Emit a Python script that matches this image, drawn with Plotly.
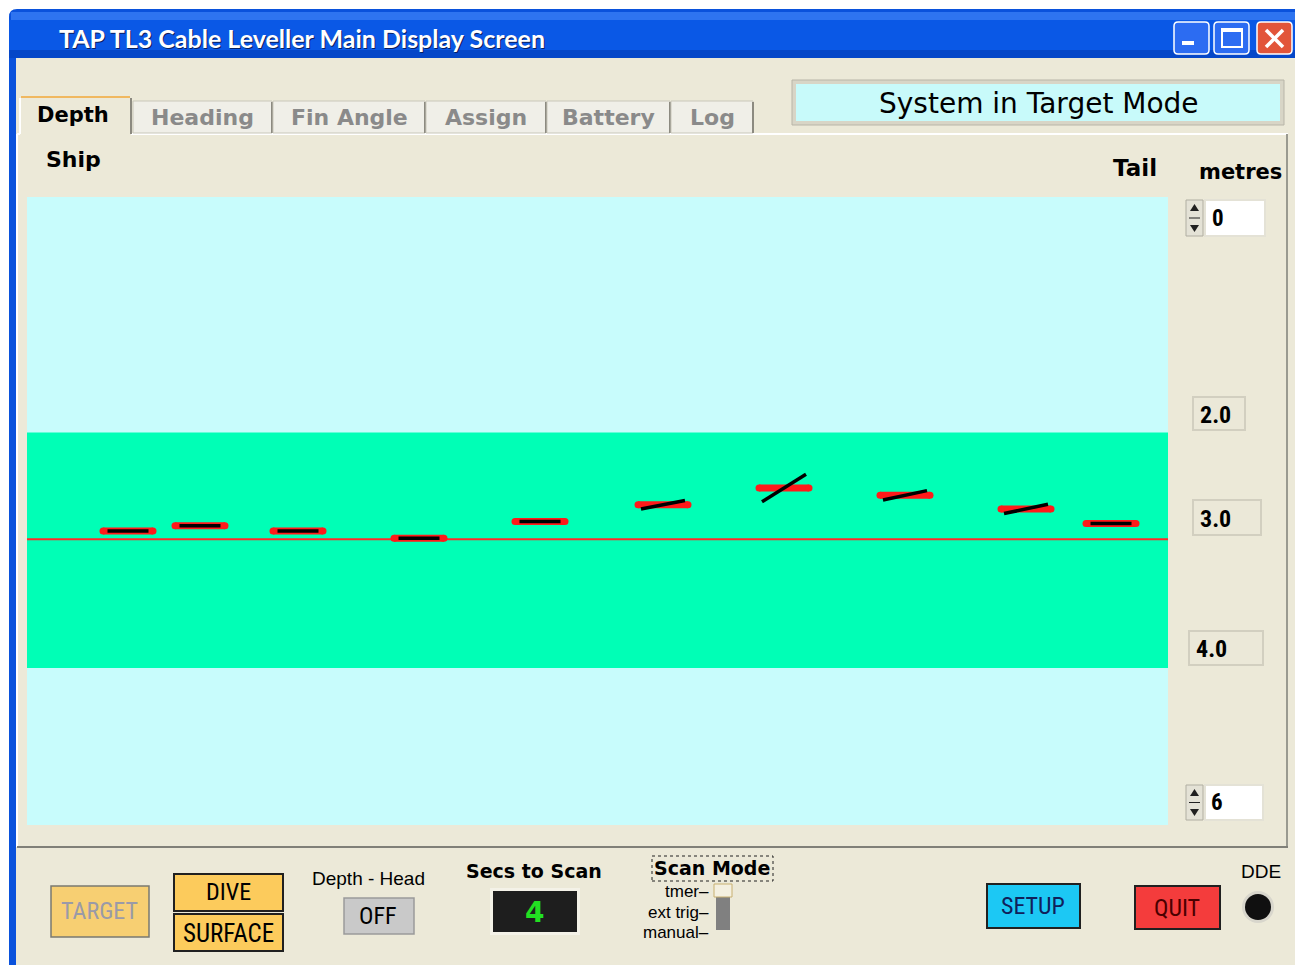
import math
import plotly.graph_objects as go

# ---------------- data ----------------
bird_pos = [101, 173, 271, 392, 513, 636, 757, 878, 999, 1084]        # along-cable position (display units)
bird_depth = [3.19, 3.14, 3.19, 3.26, 3.10, 2.94, 2.78, 2.85, 2.98, 3.12]  # metres
fin_angle = [0, 0, 0, 0, 0, 11, 32, 12, 12, 0]                          # degrees
target_depth = 3.27
band_top = 2.25
band_bottom = 4.5
depth_min, depth_max = 0, 6
pos_min, pos_max = 0, 1141
scale_labels = ["2.0", "3.0", "4.0"]

# ---------------- layout helpers ----------------
OFF = 8                      # page body margin in the browser
W, H = 1303 - OFF, 965 - OFF
PLOT_X0, PLOT_X1, PLOT_Y0, PLOT_Y1 = 27, 1168, 197, 825
px_per_unit_x = (PLOT_X1 - PLOT_X0) / (pos_max - pos_min)
px_per_m = (PLOT_Y1 - PLOT_Y0) / (depth_max - depth_min)

def fx(x):
    return (x - OFF) / W

def fy(y):
    return 1 - (y - OFF) / H

shapes = []
annotations = []

def rect(x0, y0, x1, y1, fill, line=None, lw=0, dash=None, layer="below"):
    d = dict(type="rect", xref="paper", yref="paper",
             x0=fx(x0), x1=fx(x1), y0=fy(y1), y1=fy(y0),
             fillcolor=fill, layer=layer,
             line=dict(color=line if line else "rgba(0,0,0,0)", width=lw))
    if dash:
        d["line"]["dash"] = dash
    shapes.append(d)

def hline(x0, x1, y, color, lw=1, layer="below"):
    shapes.append(dict(type="line", xref="paper", yref="paper", x0=fx(x0), x1=fx(x1),
                       y0=fy(y), y1=fy(y), line=dict(color=color, width=lw), layer=layer))

def vline(x, y0, y1, color, lw=1, layer="below"):
    shapes.append(dict(type="line", xref="paper", yref="paper", x0=fx(x), x1=fx(x),
                       y0=fy(y0), y1=fy(y1), line=dict(color=color, width=lw), layer=layer))

def rrect(x0, y0, x1, y1, r, fill, line=None, lw=0, layer="below"):
    p = (f"M {fx(x0 + r)} {fy(y0)} L {fx(x1 - r)} {fy(y0)} Q {fx(x1)} {fy(y0)} {fx(x1)} {fy(y0 + r)} "
         f"L {fx(x1)} {fy(y1 - r)} Q {fx(x1)} {fy(y1)} {fx(x1 - r)} {fy(y1)} "
         f"L {fx(x0 + r)} {fy(y1)} Q {fx(x0)} {fy(y1)} {fx(x0)} {fy(y1 - r)} "
         f"L {fx(x0)} {fy(y0 + r)} Q {fx(x0)} {fy(y0)} {fx(x0 + r)} {fy(y0)} Z")
    shapes.append(dict(type="path", xref="paper", yref="paper", path=p, fillcolor=fill,
                       layer=layer, line=dict(color=line if line else "rgba(0,0,0,0)", width=lw)))

def poly(pts, fill, line=None, lw=0, layer="below"):
    p = "M " + " L ".join(f"{fx(a)} {fy(b)}" for a, b in pts) + " Z"
    shapes.append(dict(type="path", xref="paper", yref="paper", path=p, fillcolor=fill,
                       layer=layer, line=dict(color=line if line else "rgba(0,0,0,0)", width=lw)))

def text(x, y, s, size, color="#000000", family="DejaVu Sans", xanchor="center", bold=False):
    annotations.append(dict(xref="paper", yref="paper", x=fx(x), y=fy(y), text=(f"<b>{s}</b>" if bold else s),
                            showarrow=False, xanchor=xanchor, yanchor="middle",
                            font=dict(size=size, color=color, family=family)))

BEIGE = "#ECE9D8"
NARROW = "Liberation Sans Narrow, Arial Narrow, Roboto Condensed, Liberation Sans"
SANS = "Liberation Sans, Arial"

# ---------------- window chrome ----------------
rrect(9, 9, 1310, 980, 8, "#0A52DC")
rect(11, 12, 1310, 20, "#2E74F0")
rect(9, 20, 1310, 58, "#0A58E6")
rect(9, 50, 1310, 58, "#0547C8")
rect(16, 58, 1297, 975, BEIGE)

text(58, 39, "TAP TL3 Cable Leveller Main Display Screen", 25, "#0A2060", "Lato", "left", True)
text(57, 38, "TAP TL3 Cable Leveller Main Display Screen", 25, "#FFFFFF", "Lato", "left", True)

# caption buttons
rrect(1174, 22, 1209, 54, 4, "#2C6CF2", "#FFFFFF", 1.5)
rect(1182, 41, 1194, 45, "#FFFFFF")
rrect(1214, 22, 1249, 54, 4, "#2C6CF2", "#FFFFFF", 1.5)
rect(1222, 29, 1242, 47, "rgba(0,0,0,0)", "#FFFFFF", 2)
rect(1222, 29, 1242, 32, "#FFFFFF")
rrect(1257, 22, 1292, 54, 4, "#E2553A", "#FFFFFF", 1.5)
shapes.append(dict(type="line", xref="paper", yref="paper", x0=fx(1266), y0=fy(30), x1=fx(1283), y1=fy(47),
                   line=dict(color="#FFFFFF", width=3.5), layer="below"))
shapes.append(dict(type="line", xref="paper", yref="paper", x0=fx(1266), y0=fy(47), x1=fx(1283), y1=fy(30),
                   line=dict(color="#FFFFFF", width=3.5), layer="below"))

# ---------------- tab panel ----------------
hline(17, 1288, 134, "#FFFFFF", 2)
vline(17, 134, 847, "#FFFFFF", 2)
vline(1287, 134, 847, "#9A9A90", 2)
hline(17, 1288, 847, "#808078", 2)

tabs = [("Heading", 133, 272), ("Fin Angle", 273, 425), ("Assign", 426, 546),
        ("Battery", 547, 670), ("Log", 671, 753)]
for name, a, b in tabs:
    rect(a, 101, b, 133, "#F0EFE8", "#C9C7BA", 1)
    vline(b, 102, 133, "#8C8A80", 2)
    text((a + b) / 2, 117, name, 22, "#8A8A8A", "DejaVu Sans", bold=True)
rect(20, 97, 131, 135, BEIGE)
hline(21, 130, 97, "#F0B860", 2)
vline(20, 98, 134, "#FFFFFF", 2)
vline(131, 98, 134, "#8C8A80", 2)
text(73, 115, "Depth", 21, "#000000", "DejaVu Sans", bold=True)

# status box
rect(792, 80, 1284, 125, "#D8D5C6", "#B8B5A8", 1)
rect(796, 84, 1280, 121, "#C8FAFA")
text(1039, 103, "System in Target Mode", 28, "#000000", "DejaVu Sans")

text(44, 160, "Ship", 22, "#000000", "DejaVu Sans", "left", True)
text(1135, 168, "Tail", 23, "#000000", "DejaVu Sans", bold=True)
text(1240, 172, "metres", 21, "#000000", "DejaVu Sans", bold=True)

# plot area background
rect(PLOT_X0, PLOT_Y0, PLOT_X1, PLOT_Y1, "#C8FCFC")

# green band and target line, in data coordinates
shapes.append(dict(type="rect", xref="x domain", yref="y", x0=0, x1=1, y0=band_top, y1=band_bottom,
                   fillcolor="#00FFB6", line=dict(width=0), layer="below"))
shapes.append(dict(type="line", xref="x domain", yref="y", x0=0, x1=1, y0=target_depth, y1=target_depth,
                   line=dict(color="#FF2A2A", width=2), layer="below"))

# ---------------- scale controls on right ----------------
def spinner(x0, y0, y1):
    rect(x0, y0, x0 + 17, y1, "#E4E2D6", "#B0AEA2", 1)
    mid = (y0 + y1) / 2
    poly([(x0 + 4, y0 + 11), (x0 + 13, y0 + 11), (x0 + 8.5, y0 + 4)], "#202020")
    poly([(x0 + 4, y1 - 11), (x0 + 13, y1 - 11), (x0 + 8.5, y1 - 4)], "#202020")
    hline(x0 + 3, x0 + 14, mid, "#202020", 1)

spinner(1186, 200, 236)
rect(1205, 200, 1265, 236, "#FFFFFF", "#E4E2D6", 2)
text(1210, 218, str(depth_min), 23, "#000000", NARROW, "left", True)
spinner(1186, 785, 820)
rect(1205, 785, 1263, 820, "#FFFFFF", "#E4E2D6", 2)
text(1209, 802, str(depth_max), 23, "#000000", NARROW, "left", True)

label_boxes = [(1193, 397, 1245, 430), (1193, 500, 1261, 535), (1189, 631, 1263, 665)]
for lab, (a, b, c, d) in zip(scale_labels, label_boxes):
    rect(a, b, c, d, "#EBE8D8", "#D2CFC0", 2)
    text(a + 5, (b + d) / 2 + 1, lab, 24, "#000000", NARROW, "left", True)

# ---------------- bottom control strip ----------------
rect(51, 886, 149, 937, "#F7CF72", "#7A7A70", 1.5)
text(100, 911, "TARGET", 24, "#9A9AA8", NARROW)
rect(174, 874, 283, 911, "#FCCB5C", "#202020", 2)
text(228, 892, "DIVE", 24, "#000000", NARROW)
rect(174, 914, 283, 951, "#FCCB5C", "#202020", 2)
text(228, 933, "SURFACE", 25, "#000000", NARROW)
text(369, 878, "Depth - Head", 19, "#000000", SANS)
rect(344, 898, 414, 934, "#C9C9C9", "#9A9A9A", 1.5)
text(378, 916, "OFF", 24, "#000000", NARROW)
text(534, 871, "Secs to Scan", 19, "#000000", "DejaVu Sans", bold=True)
rect(490, 888, 580, 935, "#F4F2E8")
rect(493, 891, 577, 932, "#1E1E1E")
text(534, 912, "4", 28, "#22E022", "DejaVu Sans", bold=True)

rect(652, 856, 773, 881, "rgba(0,0,0,0)", "#202020", 1, dash="dot")
text(712, 868, "Scan Mode", 19, "#000000", "DejaVu Sans", bold=True)
text(711, 891, "tmer\u2013", 17, "#000000", SANS, "right")
text(711, 912, "ext trig\u2013", 17, "#000000", SANS, "right")
text(711, 932, "manual\u2013", 17, "#000000", SANS, "right")
rect(716, 896, 730, 930, "#808080")
rect(714, 884, 732, 897, "#F4F0E0", "#C8B070", 1)

rect(987, 884, 1080, 928, "#1CC8F4", "#202020", 2)
text(1033, 906, "SETUP", 24, "#10205A", NARROW)
rect(1135, 886, 1220, 929, "#F43C3C", "#202020", 2)
text(1177, 908, "QUIT", 24, "#4A0000", NARROW)
text(1261, 871, "DDE", 19, "#000000", SANS)
shapes.append(dict(type="circle", xref="paper", yref="paper", x0=fx(1242), x1=fx(1274), y0=fy(923), y1=fy(891),
                   fillcolor="#D8D6CC", line=dict(width=0), layer="below"))
shapes.append(dict(type="circle", xref="paper", yref="paper", x0=fx(1245), x1=fx(1271), y0=fy(920), y1=fy(894),
                   fillcolor="#101010", line=dict(width=0), layer="below"))

# ---------------- birds (data traces) ----------------
half_red = 25 / px_per_unit_x
red_x, red_y = [], []
blk_x, blk_y = [], []
for p, d, a in zip(bird_pos, bird_depth, fin_angle):
    red_x += [p - half_red, p + half_red, None]
    red_y += [d, d, None]
    if a == 0:
        hx = 20.5 / px_per_unit_x
        dy = 0.0
    else:
        hx = 22 / px_per_unit_x
        dy = 22 * math.tan(math.radians(a)) / px_per_m
    blk_x += [p - hx, p + hx, None]
    blk_y += [d + dy, d - dy, None]

fig = go.Figure()
fig.add_trace(go.Scatter(x=red_x, y=red_y, mode="lines+markers",
                         line=dict(color="#FF1A1A", width=7),
                         marker=dict(color="#FF1A1A", size=7), hoverinfo="skip", showlegend=False))
fig.add_trace(go.Scatter(x=blk_x, y=blk_y, mode="lines",
                         line=dict(color="#000000", width=3.5), hoverinfo="skip", showlegend=False))

fig.update_layout(
    width=W, height=H,
    margin=dict(l=0, r=0, t=0, b=0),
    paper_bgcolor="#FFFFFF",
    plot_bgcolor="rgba(0,0,0,0)",
    xaxis=dict(domain=[fx(PLOT_X0), fx(PLOT_X1)], range=[pos_min, pos_max], visible=False, fixedrange=True),
    yaxis=dict(domain=[fy(PLOT_Y1), fy(PLOT_Y0)], range=[depth_max, depth_min], visible=False, fixedrange=True),
    shapes=shapes,
    annotations=annotations,
    showlegend=False,
)

fig.write_html("out.html")
